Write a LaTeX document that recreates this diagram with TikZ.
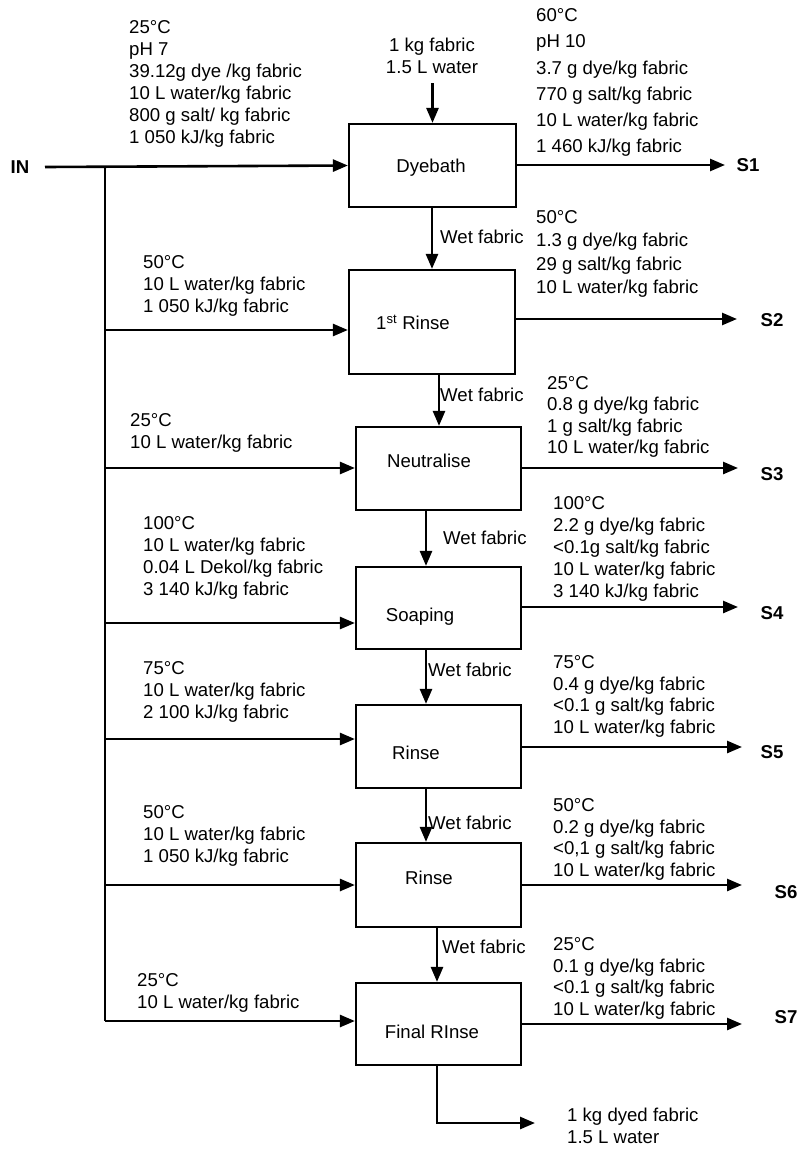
\documentclass[tikz,border=0pt]{standalone}
\usepackage{fontspec}
\setmainfont{Liberation Sans}
\usetikzlibrary{arrows.meta}
\begin{document}
\begin{tikzpicture}[x=1pt,y=-1pt,
  arr/.style={line width=2.6pt,-{Triangle[length=15pt,width=12pt]}},
  plain/.style={line width=2.6pt},
  box/.style={draw,line width=2.2pt,minimum width=165pt,minimum height=83pt,inner sep=0pt},
  txt/.style={font=\fontsize{18.6}{22}\selectfont,align=left,inner sep=0pt,anchor=north west},
  lbl/.style={font=\fontsize{18.6}{22}\selectfont,inner sep=0pt},
  blbl/.style={font=\fontsize{18.6}{22}\selectfont\bfseries,inner sep=0pt}]
\useasboundingbox (0,0) rectangle (799,1149);
% boxes
\node[box,minimum width=167pt] (B1) at (432.5,165.5) {};
\node[box,minimum width=166pt,minimum height=104pt] (B2) at (432,322) {};
\node[box] (B3) at (438.5,468.5) {};
\node[box,minimum height=82pt] (B4) at (438.5,608) {};
\node[box] (B5) at (438.5,746.5) {};
\node[box,minimum height=84pt] (B6) at (438.5,885) {};
\node[box,minimum height=82pt] (B7) at (438.5,1024) {};
% box texts
\node[lbl,anchor=base] (T1) at (431,172.7) {Dyebath};
\node[lbl,anchor=base] (T2) at (413,329.7) {1\textsuperscript{st} Rinse};
\node[lbl,anchor=base] (T3) at (429,467.7) {Neutralise};
\node[lbl,anchor=base] (T4) at (420,621.7) {Soaping};
\node[lbl,anchor=base] (T5) at (416,759.7) {Rinse};
\node[lbl,anchor=base] (T6) at (429,884.7) {Rinse};
\node[lbl,anchor=base] (T7) at (432,1038.7) {Final RInse};
% IN and bus
\node[blbl] (IN) at (20,167) {IN};
\coordinate (instart) at (45,167);
\coordinate (j1) at (105,167);
\coordinate (j2) at (105,330);
\coordinate (j3) at (105,468);
\coordinate (j4) at (105,623);
\coordinate (j5) at (105,739);
\coordinate (j6) at (105,885);
\coordinate (j7) at (105,1021);
\draw[arr] (instart) -- (B1.west);
\draw[plain] (j1) -- (j7);
\draw[arr] (j2) -- (j2 -| B2.west);
\draw[arr] (j3) -- (j3 -| B3.west);
\draw[arr] (j4) -- (j4 -| B4.west);
\draw[arr] (j5) -- (j5 -| B5.west);
\draw[arr] (j6) -- (j6 -| B6.west);
\draw[arr] (j7) -- (j7 -| B7.west);
% top input
\node[txt,anchor=north,align=center] (TOPIN) at (432,38.3) {1 kg fabric\\1.5 L water};
\draw[arr,shorten <=9pt] (TOPIN.south -| B1.north) -- (B1.north);
% wet fabric arrows
\draw[arr] (B1.south -| 432,0) -- (B2.north -| 432,0);
\draw[arr] (B2.south -| 439,0) -- (B3.north -| 439,0);
\draw[arr] (B3.south -| 426,0) -- (B4.north -| 426,0);
\draw[arr] (B4.south -| 426,0) -- (B5.north -| 426,0);
\draw[arr] (B5.south -| 426,0) -- (B6.north -| 426,0);
\draw[arr] (B6.south -| 437,0) -- (B7.north -| 437,0);
\node[lbl,anchor=west] (W1) at (440,237) {Wet fabric};
\node[lbl,anchor=west] (W2) at (440,395) {Wet fabric};
\node[lbl,anchor=west] (W3) at (443,538) {Wet fabric};
\node[lbl,anchor=west] (W4) at (428,670) {Wet fabric};
\node[lbl,anchor=west] (W5) at (428,823) {Wet fabric};
\node[lbl,anchor=west] (W6) at (442,947) {Wet fabric};
% outputs
\node[blbl] (S1) at (748,165) {S1};
\node[blbl] (S2) at (772,320) {S2};
\node[blbl] (S3) at (772,474) {S3};
\node[blbl] (S4) at (772,613) {S4};
\node[blbl] (S5) at (772,752) {S5};
\node[blbl] (S6) at (786,892) {S6};
\node[blbl] (S7) at (786,1017) {S7};
\coordinate (e1) at (725,165);
\coordinate (e2) at (737,319);
\coordinate (e3) at (738,468);
\coordinate (e4) at (738,607);
\coordinate (e5) at (742,747);
\coordinate (e6) at (742,885);
\coordinate (e7) at (742,1024);
\draw[arr] (B1.east |- e1) -- (e1);
\draw[arr] (B2.east |- e2) -- (e2);
\draw[arr] (B3.east |- e3) -- (e3);
\draw[arr] (B4.east |- e4) -- (e4);
\draw[arr] (B5.east |- e5) -- (e5);
\draw[arr] (B6.east |- e6) -- (e6);
\draw[arr] (B7.east |- e7) -- (e7);
% final output
\coordinate (outend) at (535,1123);
\draw[arr] (B7.south -| 437,0) |- (outend);
\node[txt] (OUT) at (567,1108.3) {1 kg dyed fabric\\1.5 L water};
% left texts
\node[txt] (L1) at (129,20.3) {25°C\\pH 7\\39.12g dye /kg fabric\\10 L water/kg fabric\\800 g salt/ kg fabric\\1 050 kJ/kg fabric};
\node[txt] (L2) at (143,255.3) {50°C\\10 L water/kg fabric\\1 050 kJ/kg fabric};
\node[txt] (L3) at (130,413.3) {25°C\\10 L water/kg fabric};
\node[txt] (L4) at (143,516.3) {100°C\\10 L water/kg fabric\\0.04 L Dekol/kg fabric\\3 140 kJ/kg fabric};
\node[txt] (L5) at (143,661.3) {75°C\\10 L water/kg fabric\\2 100 kJ/kg fabric};
\node[txt] (L6) at (143,805.3) {50°C\\10 L water/kg fabric\\1 050 kJ/kg fabric};
\node[txt] (L7) at (137,973.3) {25°C\\10 L water/kg fabric};
% right texts
\node[txt,font=\fontsize{18.6}{26.3}\selectfont] (R1) at (536,8.3) {60°C\\pH 10\\3.7 g dye/kg fabric\\770 g salt/kg fabric\\10 L water/kg fabric\\1 460 kJ/kg fabric};
\node[txt,font=\fontsize{18.6}{23.3}\selectfont] (R2) at (536,210.3) {50°C\\1.3 g dye/kg fabric\\29 g salt/kg fabric\\10 L water/kg fabric};
\node[txt,font=\fontsize{18.6}{21.3}\selectfont] (R3) at (547,376.3) {25°C\\0.8 g dye/kg fabric\\1 g salt/kg fabric\\10 L water/kg fabric};
\node[txt] (R4) at (553,496.3) {100°C\\2.2 g dye/kg fabric\\<0.1g salt/kg fabric\\10 L water/kg fabric\\3 140 kJ/kg fabric};
\node[txt,font=\fontsize{18.6}{21.7}\selectfont] (R5) at (553,655.3) {75°C\\0.4 g dye/kg fabric\\<0.1 g salt/kg fabric\\10 L water/kg fabric};
\node[txt,font=\fontsize{18.6}{21.7}\selectfont] (R6) at (553,798.3) {50°C\\0.2 g dye/kg fabric\\<0,1 g salt/kg fabric\\10 L water/kg fabric};
\node[txt,font=\fontsize{18.6}{21.7}\selectfont] (R7) at (553,937.3) {25°C\\0.1 g dye/kg fabric\\<0.1 g salt/kg fabric\\10 L water/kg fabric};
\end{tikzpicture}
\end{document}
